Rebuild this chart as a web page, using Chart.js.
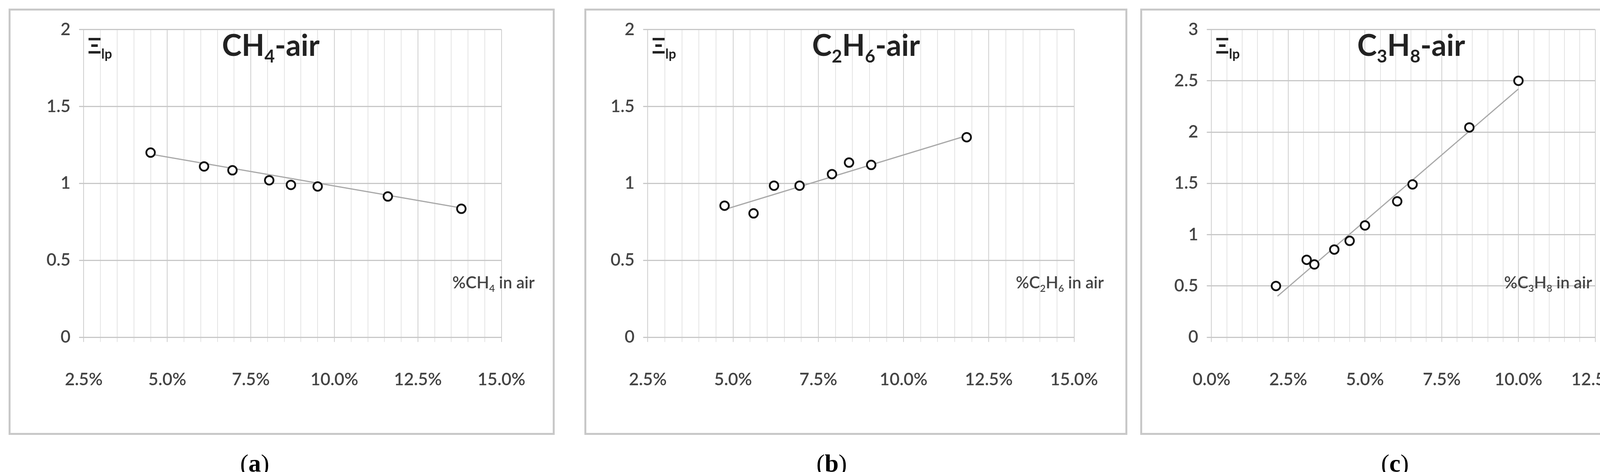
<!DOCTYPE html>
<html><head><meta charset="utf-8">
<script src="https://cdn.jsdelivr.net/npm/chart.js@4"></script>
<style>
body{margin:0;background:#fff;width:4225px;height:1208px;position:relative;overflow:hidden;font-family:Lato,sans-serif}
.panel{position:absolute;top:22px;height:1091px;border:5px solid #c8c8c8;box-sizing:border-box;background:#fff}
.cap{position:absolute;top:1148px;width:300px;font-family:"Liberation Serif",serif;font-size:64px;line-height:76px;color:#000;text-align:center}
</style></head><body>
<div class="panel" style="left:22px;width:1398px"><canvas id="ca"></canvas></div>
<div class="panel" style="left:1496px;width:1390px"><canvas id="cb"></canvas></div>
<div class="panel" style="left:2919px;width:1301px"><canvas id="cc"></canvas></div>
<div class="cap" style="left:502px">(<b>a</b>)</div>
<div class="cap" style="left:1979px">(<b>b</b>)</div>
<div class="cap" style="left:3421px">(<b>c</b>)</div>
<script>
// CH4-air
const ch4X = [4.5, 6.1, 6.95, 8.05, 8.7, 9.5, 11.6, 13.8];
const ch4Y = [1.2, 1.11, 1.085, 1.02, 0.99, 0.98, 0.915, 0.835];
const ch4TrendX = [4.5, 13.8];
const ch4TrendY = [1.19, 0.84];
// C2H6-air
const c2h6X = [4.75, 5.6, 6.2, 6.95, 7.9, 8.4, 9.05, 11.85];
const c2h6Y = [0.855, 0.805, 0.985, 0.985, 1.06, 1.135, 1.12, 1.3];
const c2h6TrendX = [4.75, 11.85];
const c2h6TrendY = [0.83, 1.31];
// C3H8-air
const c3h8X = [2.1, 3.1, 3.35, 4.0, 4.5, 5.0, 6.05, 6.55, 8.4, 10.0];
const c3h8Y = [0.5, 0.755, 0.71, 0.855, 0.94, 1.09, 1.325, 1.49, 2.045, 2.5];
const c3h8TrendX = [2.15, 10.0];
const c3h8TrendY = [0.4, 2.42];
// axes
const xRangeA = [2.5, 15], xRangeB = [2.5, 15], xRangeC = [0, 12.5];
const yMaxA = 2, yMaxB = 2, yMaxC = 3;
const titles = ['CH|4|-air', 'C|2|H|6|-air', 'C|3|H|8|-air'];
const xTitles = ['%CH|4| in air', '%C|2|H|6| in air', '%C|3|H|8| in air'];

const pts = (xs, ys) => xs.map((x, i) => ({x, y: ys[i]}));

function drawSub(ctx, str, x, y, size, align, weight) {
  const parts = str.split('|');
  const f = s => weight + ' ' + s + 'px Lato';
  let w = 0;
  parts.forEach((p, i) => { ctx.font = f(i % 2 ? 0.6 * size : size); w += ctx.measureText(p).width; });
  let cx = align === 'right' ? x - w : (align === 'center' ? x - w / 2 : x);
  ctx.textAlign = 'left'; ctx.textBaseline = 'alphabetic';
  parts.forEach((p, i) => {
    ctx.font = f(i % 2 ? 0.6 * size : size);
    ctx.fillText(p, cx, y + (i % 2 ? size * 0.22 : 0));
    cx += ctx.measureText(p).width;
  });
}

function make(id, xs, ys, tx, ty, xr, ymax, ti, xt, w, pad, titleDx, xtDx) {
  const cv = document.getElementById(id);
  cv.width = w - 10; cv.height = 1081;
  const lbl = {
    id: 'lbl' + id,
    afterDraw(ch) {
      const c = ch.ctx, a = ch.chartArea;
      c.save(); c.fillStyle = '#222';
      drawSub(c, ti, (a.left + a.right) / 2 + titleDx, a.top + 68, 76, 'center', 'bold');
      drawSub(c, 'Ξ|lp', a.left + 10, a.top + 62, 56, 'left', 'bold');
      c.fillStyle = '#444';
      drawSub(c, xt, a.right + xtDx, a.bottom - 125, 42, 'right', '600');
      c.restore();
    }
  };
  const isMajor = v => Math.abs(v / 2.5 - Math.round(v / 2.5)) < 1e-6;
  new Chart(cv, {
    type: 'scatter',
    data: { datasets: [
      { data: pts(tx, ty), showLine: true, borderColor: '#a8a8a8', borderWidth: 3, pointRadius: 0, order: 2 },
      { data: pts(xs, ys), pointRadius: 11, pointBorderWidth: 4.5, pointBorderColor: '#111', pointBackgroundColor: '#fff', order: 1 }
    ]},
    options: {
      responsive: false, animation: false, devicePixelRatio: 1,
      layout: { padding: pad },
      plugins: { legend: { display: false }, tooltip: { enabled: false } },
      scales: {
        x: { type: 'linear', min: xr[0], max: xr[1],
          border: { display: false },
          grid: { color: c => isMajor(c.tick.value) ? '#cfcfcf' : '#e4e4e4', lineWidth: 2, drawTicks: true, tickLength: 12 },
          ticks: { stepSize: 0.5, autoSkip: false, maxRotation: 0, padding: 70, color: '#444', font: { family: 'Lato', size: 44, weight: '600' },
            callback: v => isMajor(v) ? v.toFixed(1) + '%' : '' } },
        y: { min: 0, max: ymax,
          border: { display: false },
          grid: { color: '#c8c8c8', lineWidth: 3, drawTicks: true, tickLength: 12 },
          ticks: { stepSize: 0.5, padding: 22, color: '#444', font: { family: 'Lato', size: 44, weight: '600' }, callback: v => String(v) } }
      }
    },
    plugins: [lbl]
  });
}
make('ca', ch4X, ch4Y, ch4TrendX, ch4TrendY, xRangeA, yMaxA, titles[0], xTitles[0], 1398, {left: 70, right: 45, top: 0, bottom: 40}, -56, 85);
make('cb', c2h6X, c2h6Y, c2h6TrendX, c2h6TrendY, xRangeB, yMaxB, titles[1], xTitles[1], 1390, {left: 40, right: 100, top: 0, bottom: 40}, 13, 76);
make('cc', c3h8X, c3h8Y, c3h8TrendX, c3h8TrendY, xRangeC, yMaxC, titles[2], xTitles[2], 1301, {left: 60, right: 42, top: 0, bottom: 40}, 20, -8);
</script></body></html>
